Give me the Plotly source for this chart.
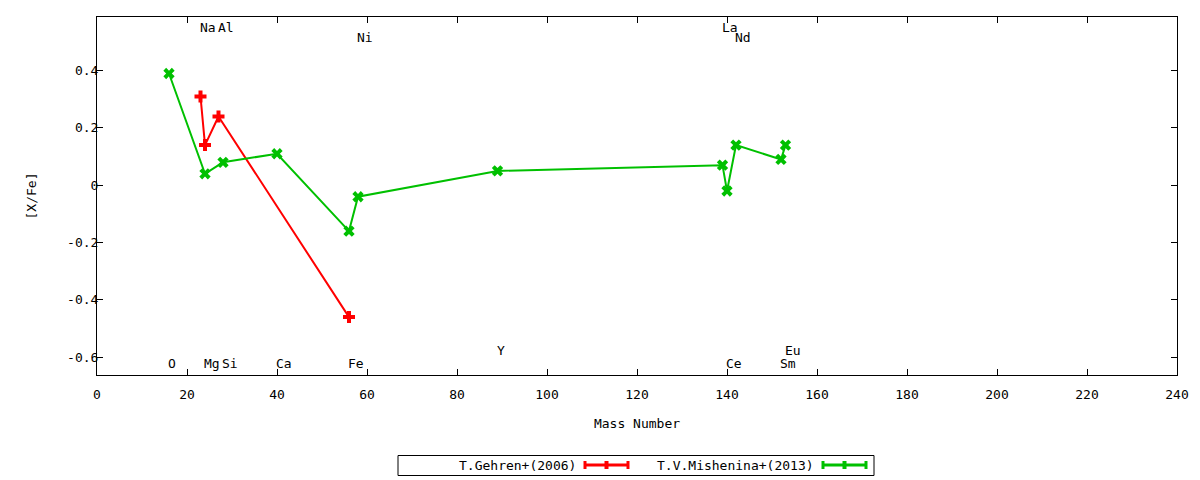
import plotly.graph_objects as go

# ---- data ----
gehren_mass = [23, 24, 27, 56]
gehren_xfe = [0.31, 0.14, 0.24, -0.46]

mish_mass = [16, 24, 28, 40, 56, 58, 89, 139, 140, 142, 152, 153]
mish_xfe = [0.39, 0.04, 0.08, 0.11, -0.16, -0.04, 0.05, 0.07, -0.02, 0.14, 0.09, 0.14]

elem_names = ["Na", "Al", "Ni", "La", "Nd", "O", "Mg", "Si", "Ca", "Fe", "Y", "Ce", "Sm", "Eu"]
elem_mass = [23, 27, 58, 139, 142, 16, 24, 28, 40, 56, 89, 140, 152, 153]
elem_level = [0.551, 0.551, 0.516, 0.551, 0.516, -0.622, -0.622, -0.622, -0.622, -0.622,
              -0.577, -0.622, -0.622, -0.575]

x_ticks = [0, 20, 40, 60, 80, 100, 120, 140, 160, 180, 200, 220, 240]
y_ticks = [-0.6, -0.4, -0.2, 0, 0.2, 0.4]
y_tick_text = ["-0.6", "-0.4", "-0.2", "0", "0.2", "0.4"]

series_names = ["T.Gehren+(2006)", "T.V.Mishenina+(2013)"]

RED = "#ff0000"
GREEN = "#00c000"
FONT = "DejaVu Sans Mono"
FS = 13

# page body margin offset (browser default)
OFF = 8
PAGE_W, PAGE_H = 1200, 480
FIG_W, FIG_H = PAGE_W - OFF, PAGE_H - OFF

fig = go.Figure()
fig.add_trace(go.Scatter(
    x=gehren_mass, y=gehren_xfe, mode="lines+markers", name=series_names[0],
    line=dict(color=RED, width=2),
    marker=dict(symbol="cross", size=10, color=RED, line=dict(width=0)),
    showlegend=False,
))
fig.add_trace(go.Scatter(
    x=mish_mass, y=mish_xfe, mode="lines+markers", name=series_names[1],
    line=dict(color=GREEN, width=2),
    marker=dict(symbol="x", size=10, color=GREEN, line=dict(width=0)),
    showlegend=False,
))

annotations = []
for name, m, lv in zip(elem_names, elem_mass, elem_level):
    annotations.append(dict(
        x=m, y=lv, xref="x", yref="y", text=name, showarrow=False,
        xanchor="left", yanchor="middle", xshift=-3,
        font=dict(family=FONT, size=FS, color="black"),
    ))

# plot area in (page) pixels: x 97..1177, y 17..375
W0, W1, H0, H1 = 97, 1177, 17, 375


def px(x):
    return (x - W0) / (W1 - W0)


def py(y):
    return (H1 - y) / (H1 - H0)


shapes = []
# legend box
shapes.append(dict(type="rect", xref="paper", yref="paper",
                   x0=px(398), x1=px(874), y0=py(475.5), y1=py(455.5),
                   line=dict(color="black", width=1), fillcolor="white", layer="above"))

legend_items = [(series_names[0], RED, 578, 585, 628), (series_names[1], GREEN, 816, 823, 866)]
ly = 465
for name, col, text_right, s0, s1 in legend_items:
    annotations.append(dict(
        x=px(text_right), y=py(ly), xref="paper", yref="paper", text=name,
        showarrow=False, xanchor="right", yanchor="middle",
        font=dict(family=FONT, size=FS, color="black"),
    ))
    shapes.append(dict(type="line", xref="paper", yref="paper",
                       x0=px(s0), x1=px(s1), y0=py(ly), y1=py(ly),
                       line=dict(color=col, width=3), layer="above"))
    for xe in (s0, s1):
        shapes.append(dict(type="line", xref="paper", yref="paper",
                           x0=px(xe), x1=px(xe), y0=py(ly - 4), y1=py(ly + 4),
                           line=dict(color=col, width=3), layer="above"))
    mid = (s0 + s1) / 2
    shapes.append(dict(type="rect", xref="paper", yref="paper",
                       x0=px(mid - 2), x1=px(mid + 2), y0=py(ly + 4), y1=py(ly - 4),
                       line=dict(color=col, width=0), fillcolor=col, layer="above"))

axis_common = dict(
    showline=True, linecolor="black", linewidth=1, mirror="ticks",
    ticks="inside", ticklen=6, tickcolor="black", tickwidth=1,
    showgrid=False, zeroline=False,
    tickfont=dict(family=FONT, size=FS, color="black"),
)

fig.update_layout(
    width=FIG_W, height=FIG_H,
    margin=dict(l=W0 - OFF, r=PAGE_W - W1, t=H0 - OFF, b=PAGE_H - H1),
    paper_bgcolor="white", plot_bgcolor="white",
    xaxis=dict(range=[0, 240], tickvals=x_ticks, ticktext=[str(v) for v in x_ticks],
               ticklabelstandoff=7,
               title=dict(text="Mass Number", font=dict(family=FONT, size=FS, color="black"), standoff=18),
               **axis_common),
    yaxis=dict(range=[-0.662, 0.587], tickvals=y_ticks, ticktext=y_tick_text,
               ticklabelstandoff=-5,
               title=dict(text="[X/Fe]", font=dict(family=FONT, size=FS, color="black"), standoff=27),
               **axis_common),
    annotations=annotations,
    shapes=shapes,
    showlegend=False,
    font=dict(family=FONT, size=FS, color="black"),
)

fig.write_html("out.html")
